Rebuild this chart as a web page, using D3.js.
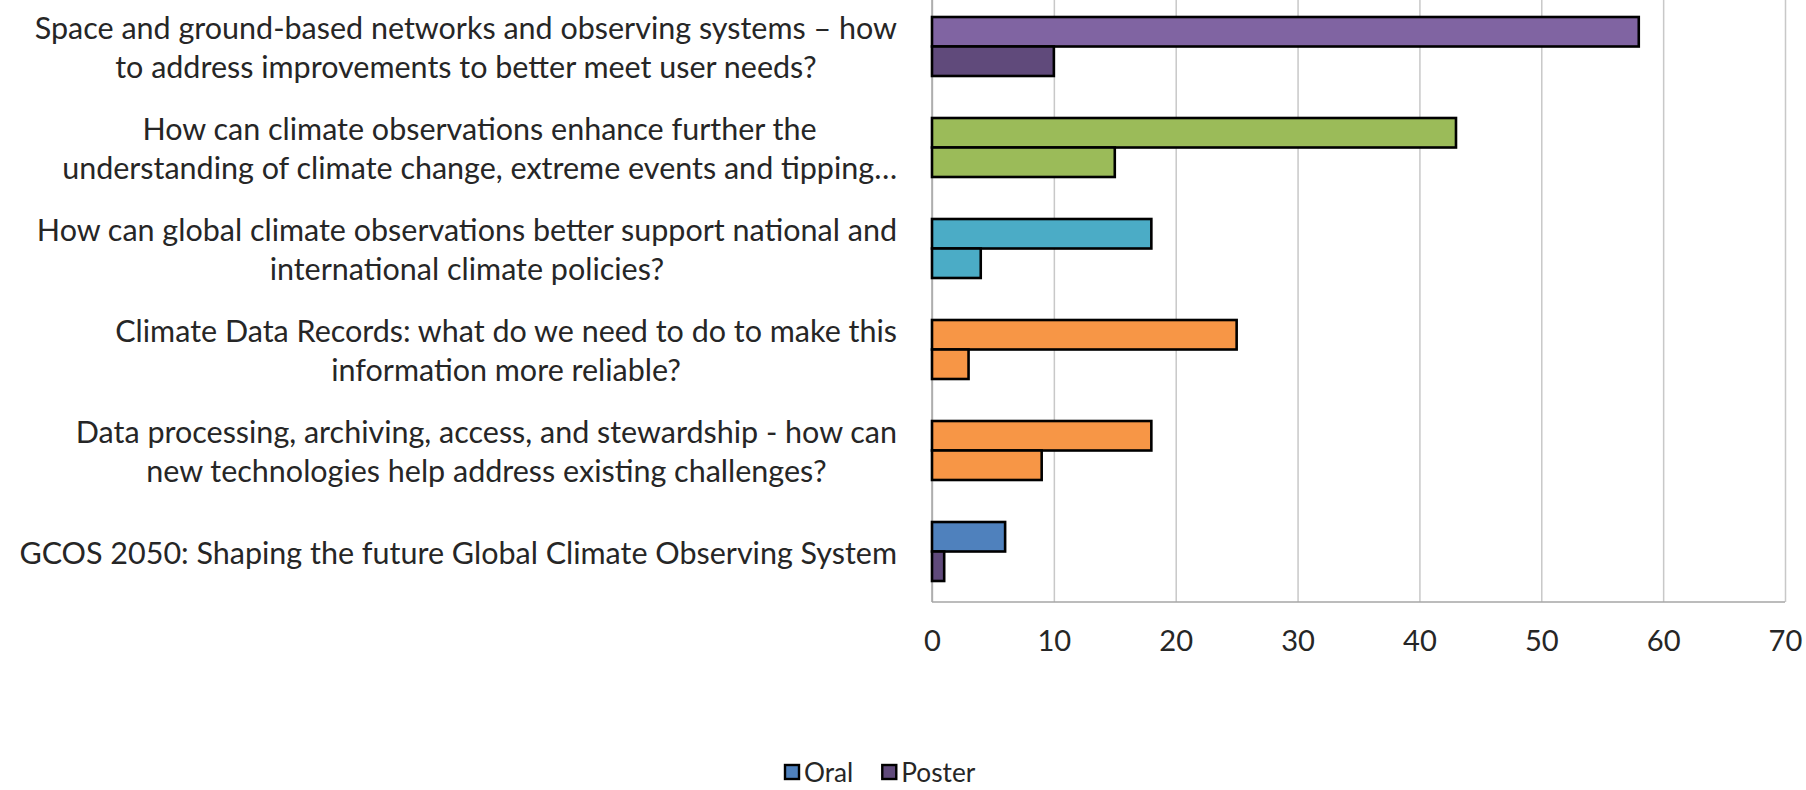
<!DOCTYPE html>
<html>
<head>
<meta charset="utf-8">
<script src="https://cdn.jsdelivr.net/npm/d3@7"></script>
<style>
  html, body { margin: 0; padding: 0; background: #fff; }
  svg { display: block; }
  text { font-family: Lato, "Open Sans", sans-serif; fill: #262626; }
</style>
</head>
<body>
<svg id="chart" width="1806" height="790"></svg>
<script>
// ---- data (top to bottom as displayed) ----
const categories = [
  "Space and ground-based networks and observing systems \u2013 how\nto address improvements to better meet user needs?",
  "How can climate observations enhance further the\nunderstanding of climate change, extreme events and tipping\u2026",
  "How can global climate observations better support national and\ninternational climate policies?",
  "Climate Data Records: what do we need to do to make this\ninformation more reliable?",
  "Data processing, archiving, access, and stewardship - how can\nnew technologies help address existing challenges?",
  "GCOS 2050: Shaping the future Global Climate Observing System"
];
const oralValues   = [58, 43, 18, 25, 18, 6];
const posterValues = [10, 15, 4, 3, 9, 1];
const oralColors   = ["#8064A2", "#9BBB59", "#4BACC6", "#F79646", "#F79646", "#4F81BD"];
const posterColors = ["#604A7B", "#9BBB59", "#4BACC6", "#F79646", "#F79646", "#604A7B"];
const seriesNames  = ["Oral", "Poster"];
const legendColors = ["#4F81BD", "#604A7B"];
const xTicks       = [0, 10, 20, 30, 40, 50, 60, 70];

// ---- layout ----
const svg = d3.select("#chart");
const plot = { left: 932, right: 1785, top: -4, bottom: 602 };
const labelRight = 897;
const lineGap = 38.5;

const x = d3.scaleLinear().domain([0, 70]).range([plot.left, plot.right]);
const y = d3.scaleBand().domain(d3.range(categories.length))
  .range([plot.top, plot.bottom]).paddingInner(0.416).paddingOuter(0.208);
const ySub = d3.scaleBand().domain(seriesNames).range([0, y.bandwidth()]);

// label font fitting (Calibri-like width)
const probe = svg.append("text").attr("font-size", 30)
  .text("GCOS 2050: Shaping the future Global Climate Observing System");
const probeW = probe.node().getComputedTextLength();
probe.remove();
const labelFont = 30 * 878 / probeW;
const tickFont = labelFont * 0.955;
const legendFont = labelFont * 0.86;

// grid lines
const grid = svg.append("g")
  .attr("transform", `translate(0,${plot.bottom})`)
  .call(d3.axisBottom(x).tickValues(xTicks).tickSize(-(plot.bottom - plot.top)).tickFormat(""));
grid.select(".domain").remove();
grid.selectAll(".tick line").attr("stroke", "#C8C8C8").attr("stroke-width", 1.5);

// axis lines
svg.append("line").attr("x1", plot.left).attr("x2", plot.left)
  .attr("y1", plot.top).attr("y2", plot.bottom)
  .attr("stroke", "#A6A6A6").attr("stroke-width", 1.5);
svg.append("line").attr("x1", plot.left).attr("x2", plot.right)
  .attr("y1", plot.bottom).attr("y2", plot.bottom)
  .attr("stroke", "#A6A6A6").attr("stroke-width", 1.5);

// tick labels
const xAxis = svg.append("g")
  .attr("transform", `translate(0,${plot.bottom})`)
  .call(d3.axisBottom(x).tickValues(xTicks).tickSize(0).tickPadding(28));
xAxis.select(".domain").remove();
xAxis.selectAll("text").attr("font-size", tickFont).attr("font-family", "Lato, 'Open Sans', sans-serif")
  .attr("fill", "#262626");

// bars
const groups = svg.append("g").selectAll("g").data(categories).join("g")
  .attr("transform", (d, i) => `translate(0,${y(i)})`);

groups.append("rect")
  .attr("x", x(0)).attr("y", ySub("Oral"))
  .attr("width", (d, i) => x(oralValues[i]) - x(0))
  .attr("height", ySub.bandwidth())
  .attr("fill", (d, i) => oralColors[i])
  .attr("stroke", "#000").attr("stroke-width", 2.6);

groups.append("rect")
  .attr("x", x(0)).attr("y", ySub("Poster"))
  .attr("width", (d, i) => x(posterValues[i]) - x(0))
  .attr("height", ySub.bandwidth())
  .attr("fill", (d, i) => posterColors[i])
  .attr("stroke", "#000").attr("stroke-width", 2.6);

// category labels (lines centered, block right-aligned)
categories.forEach((c, i) => {
  const lines = c.split("\n");
  const cy = y(i) + y.bandwidth() / 2;
  const g = svg.append("g");
  const texts = lines.map((ln, k) => g.append("text")
    .attr("font-size", labelFont)
    .attr("text-anchor", "middle")
    .attr("dominant-baseline", "central")
    .attr("y", cy + (k - (lines.length - 1) / 2) * lineGap)
    .text(ln));
  const maxW = d3.max(texts, t => t.node().getComputedTextLength());
  texts.forEach(t => t.attr("x", labelRight - maxW / 2));
});

// legend
const legend = svg.append("g").attr("transform", "translate(784,772)");
let lx = 0;
seriesNames.forEach((name, i) => {
  const item = legend.append("g").attr("transform", `translate(${lx},0)`);
  item.append("rect").attr("x", 1).attr("y", -7).attr("width", 14).attr("height", 14)
    .attr("fill", legendColors[i]).attr("stroke", "#000").attr("stroke-width", 2.4);
  const t = item.append("text").attr("x", 20).attr("y", 0)
    .attr("dominant-baseline", "central").attr("font-size", legendFont).text(name);
  lx += 20 + t.node().getComputedTextLength() + 28;
});
</script>
</body>
</html>
